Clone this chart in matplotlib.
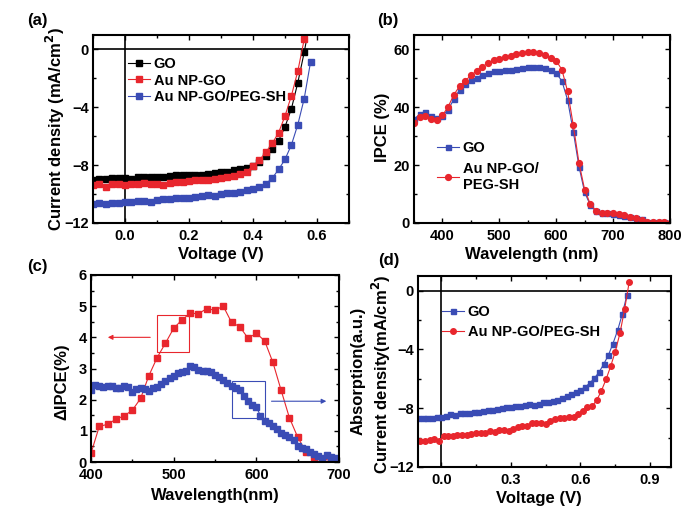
#!/usr/bin/env python3
"""J-V curves, IPCE and delta-IPCE for GO / Au NP-GO cells (4-panel figure)."""

import numpy as np
import matplotlib
matplotlib.use("Agg")
import matplotlib.pyplot as plt
from matplotlib.patches import Rectangle
from matplotlib.ticker import MultipleLocator

plt.rcParams["font.family"] = ["Liberation Sans", "DejaVu Sans"]
plt.rcParams["font.weight"] = "bold"
plt.rcParams["axes.labelweight"] = "bold"
plt.rcParams["mathtext.default"] = "bf"

RED = "#e8262d"
BLUE = "#3a4cb5"

# ---- (a) J-V, voltage grid every 0.02 V ----
volt_a = np.round(np.arange(-0.10, 0.581, 0.02), 2)
jv_go = [-9.0, -8.95, -8.95, -8.9, -8.9, -8.9, -8.95, -8.8, -8.85, -8.8,
         -8.8, -8.8, -8.75, -8.65, -8.7, -8.65, -8.65, -8.65, -8.6, -8.55,
         -8.5, -8.45, -8.35, -8.3, -8.2, -8.05, -7.75, -7.4, -6.9, -6.3,
         -5.35, -4.1, -2.3, -0.2, 2.2]
jv_au = [-9.35, -9.3, -9.5, -9.3, -9.3, -9.4, -9.3, -9.3, -9.25, -9.3,
         -9.3, -9.35, -9.2, -9.15, -9.15, -9.1, -9.05, -9.05, -9.0, -8.95,
         -8.9, -8.85, -8.75, -8.6, -8.45, -8.05, -7.65, -7.1, -6.5, -5.75,
         -4.6, -3.2, -1.5, 0.7, 3.0]
jv_peg = [-10.7, -10.65, -10.7, -10.6, -10.6, -10.55, -10.55, -10.5, -10.45, -10.55,
          -10.4, -10.35, -10.35, -10.3, -10.3, -10.25, -10.2, -10.15, -10.05, -10.1,
          -10.0, -9.95, -9.9, -9.85, -9.75, -9.65, -9.5, -9.3, -8.9, -8.3,
          -7.6, -6.6, -5.2, -3.4, -0.85]
volt_a_peg = np.round(np.arange(-0.10, 0.581, 0.02), 2)

# ---- (b) IPCE, every 10 nm ----
wl_b = np.arange(350, 801, 10)
ipce_go = [35.9, 37.6, 38.3, 37.1, 36.2, 37.1, 39.1, 42.8, 46.0, 47.9,
           49.4, 50.3, 51.1, 51.8, 52.4, 52.6, 53.0, 53.0, 53.3, 53.7,
           54.0, 54.1, 53.9, 53.6, 52.9, 51.8, 49.1, 42.5, 31.6, 19.5,
           10.6, 6.1, 4.0, 3.5, 3.3, 3.2, 2.8, 2.4, 2.0, 1.6,
           1.3, 0.4, 0.3, 0.3, 0.2, 0.1]
ipce_peg = [34.5, 36.5, 37.0, 35.8, 35.5, 37.2, 40.2, 44.3, 47.3, 49.2,
            51.0, 52.6, 54.0, 55.3, 56.2, 56.8, 57.4, 57.8, 58.3, 58.8,
            59.0, 59.2, 58.8, 58.0, 57.1, 56.1, 53.0, 45.5, 33.8, 20.8,
            11.5, 6.5, 4.2, 3.6, 3.4, 3.3, 3.0, 2.6, 2.1, 1.6,
            1.2, 0.3, 0.3, 0.3, 0.2, 0.0]

# ---- (c) delta IPCE (red, 10 nm) and absorption (blue, 5 nm) ----
wl_c_red = np.arange(400, 691, 10)
dipce = [0.28, 1.14, 1.21, 1.37, 1.48, 1.66, 2.04, 2.77, 3.35, 3.81,
         4.29, 4.56, 4.77, 4.76, 4.92, 4.87, 5.0, 4.48, 4.34, 3.97,
         4.13, 3.89, 3.2, 2.3, 1.42, 0.8, 0.33, 0.17, 0.1, 0.05]
wl_c_blue = np.arange(400, 701, 5)
absorb = [2.3, 2.46, 2.43, 2.41, 2.43, 2.45, 2.38, 2.38, 2.45, 2.4,
          2.24, 2.35, 2.37, 2.34, 2.28, 2.37, 2.41, 2.5, 2.61, 2.7,
          2.77, 2.86, 2.89, 2.93, 3.07, 3.05, 2.96, 2.91, 2.91, 2.89,
          2.8, 2.73, 2.64, 2.54, 2.45, 2.38, 2.3, 2.13, 1.95, 1.82,
          1.77, 1.48, 1.32, 1.26, 1.16, 1.05, 0.92, 0.87, 0.79, 0.71,
          0.52, 0.46, 0.41, 0.33, 0.25, 0.18, 0.14, 0.24, 0.15, 0.12,
          0.1]

# ---- (d) J-V second device set ----
volt_d_go = np.round(np.arange(-0.10, 0.801, 0.02), 2)
jd_go = [-8.68, -8.66, -8.64, -8.64, -8.57, -8.57, -8.5, -8.39, -8.43, -8.34,
         -8.32, -8.32, -8.23, -8.26, -8.17, -8.14, -8.1, -8.08, -8.0, -7.95,
         -7.9, -7.87, -7.83, -7.75, -7.72, -7.8, -7.7, -7.6, -7.55, -7.5,
         -7.42, -7.33, -7.2, -7.05, -6.9, -6.75, -6.55, -6.3, -5.95, -5.55,
         -5.0, -4.4, -3.6, -2.7, -1.6, -0.3]
volt_d_peg = np.round(np.arange(-0.09, 0.821, 0.02), 2)
jd_peg = [-10.2, -10.2, -10.13, -10.07, -10.22, -9.91, -9.89, -9.91, -9.84, -9.8,
          -9.84, -9.78, -9.66, -9.7, -9.7, -9.57, -9.62, -9.5, -9.48, -9.55,
          -9.4, -9.28, -9.22, -9.24, -9.02, -9.0, -9.02, -9.06, -8.84, -8.72,
          -8.66, -8.66, -8.6, -8.57, -8.39, -8.17, -7.95, -7.87, -7.45, -6.82,
          -6.04, -5.15, -4.14, -2.9, -1.28, 0.6]


def style_axes(ax, xmaj, xmin, ymaj, ymin):
    ax.xaxis.set_major_locator(MultipleLocator(xmaj))
    ax.xaxis.set_minor_locator(MultipleLocator(xmin))
    ax.yaxis.set_major_locator(MultipleLocator(ymaj))
    ax.yaxis.set_minor_locator(MultipleLocator(ymin))
    ax.tick_params(which="both", direction="in", top=True, right=True,
                   labelsize=10.5, width=1.0)
    ax.tick_params(which="major", length=3.5)
    ax.tick_params(which="minor", length=2)
    ax.tick_params(axis="x", pad=4)
    ax.tick_params(axis="y", pad=3)
    for sp in ax.spines.values():
        sp.set_linewidth(1.5)


def series(ax, x, y, color, marker, ms=3.8):
    return ax.plot(x, y, color=color, lw=0.8, marker=marker, ms=ms,
                   mec=color, mfc=color)[0]


fig = plt.figure(figsize=(6.91, 5.08), dpi=100)
W, H = 691.0, 508.0


def add_ax(l, r, t, b):
    return fig.add_axes([l / W, 1 - b / H, (r - l) / W, (b - t) / H])


def leg_kw(spacing):
    return dict(frameon=False, handlelength=1.5, handletextpad=0.25,
                borderpad=0, borderaxespad=0, labelspacing=spacing,
                prop={"weight": "bold", "size": 10.5}, numpoints=1)


# (a)
ax = add_ax(93, 349, 35, 223)
ax.axhline(0, color="black", lw=1.2)
ax.axvline(0, color="black", lw=1.2)
series(ax, volt_a, jv_go, "black", "s")
series(ax, volt_a, jv_au, RED, "s")
series(ax, volt_a_peg, jv_peg, BLUE, "s")
ax.set_xlim(-0.1, 0.7)
ax.set_ylim(-12, 1)
style_axes(ax, 0.2, 0.1, 4, 2)
ax.xaxis.set_major_formatter(plt.FuncFormatter(lambda v, p: f"{v:.1f}"))
ax.set_xlabel("Voltage (V)", fontsize=12)
ax.set_ylabel("Current density (mA/cm$^2$)", fontsize=12)
ax.xaxis.set_label_coords(0.5, -0.13)
ax.yaxis.set_label_coords(-0.1, 0.5)
ax.legend(ax.lines[2:], ["GO", "Au NP-GO", "Au NP-GO/PEG-SH"],
          loc="upper left", bbox_to_anchor=(0.137, 0.885), **leg_kw(0.2))

# (b)
ax = add_ax(414, 670, 35, 223)
series(ax, wl_b, ipce_go, BLUE, "s", ms=3.6)
series(ax, wl_b, ipce_peg, RED, "o", ms=4.2)
ax.set_xlim(350, 800)
ax.set_ylim(0, 65)
style_axes(ax, 100, 50, 20, 10)
ax.set_xlabel("Wavelength (nm)", fontsize=12)
ax.set_ylabel("IPCE (%)", fontsize=12)
ax.xaxis.set_label_coords(0.46, -0.13)
ax.yaxis.set_label_coords(-0.092, 0.508)
ax.legend(["GO", "Au NP-GO/\nPEG-SH"], loc="upper left",
          bbox_to_anchor=(0.09, 0.435), **leg_kw(0.45))

# (c)
ax = add_ax(91, 339, 275, 462)
series(ax, wl_c_red, dipce, RED, "s", ms=3.8)
series(ax, wl_c_blue, absorb, BLUE, "s", ms=4.2)
ax.set_xlim(400, 700)
ax.set_ylim(0, 6)
style_axes(ax, 100, 50, 1, 0.5)
ax.set_xlabel("Wavelength(nm)", fontsize=12)
ax.set_ylabel("\u0394IPCE(%)", fontsize=12)
ax.xaxis.set_label_coords(0.5, -0.14)
ax.yaxis.set_label_coords(-0.089, 0.43)
ax.add_patch(Rectangle((480, 3.52), 38, 1.2, fill=False, ec=RED, lw=0.8))
ax.annotate("", xy=(417, 4.0), xytext=(475, 4.0),
            arrowprops=dict(arrowstyle="-|>", color=RED, lw=0.8,
                            mutation_scale=7))
ax.add_patch(Rectangle((571, 1.4), 40, 1.19, fill=False, ec=BLUE, lw=0.8))
ax.annotate("", xy=(688, 1.95), xytext=(615, 1.95),
            arrowprops=dict(arrowstyle="-|>", color=BLUE, lw=0.8,
                            mutation_scale=7))

# (d)
ax = add_ax(418, 671, 276, 467)
ax.axhline(0, color="black", lw=1.2)
ax.axvline(0, color="black", lw=1.2)
h1 = series(ax, volt_d_go, jd_go, BLUE, "s", ms=3.6)
h2 = series(ax, volt_d_peg, jd_peg, RED, "o", ms=4.0)
ax.set_xlim(-0.1, 0.99)
ax.set_ylim(-12, 1)
style_axes(ax, 0.3, 0.15, 4, 2)
ax.xaxis.set_major_formatter(plt.FuncFormatter(lambda v, p: f"{v:.1f}"))
ax.set_xlabel("Voltage (V)", fontsize=12)
ax.set_ylabel("Current density(mA/cm$^2$)", fontsize=12)
ax.xaxis.set_label_coords(0.478, -0.125)
ax.yaxis.set_label_coords(-0.1, 0.484)
ax.text(-0.235, 0.503, "Absorption(a.u.)", transform=ax.transAxes,
        rotation=90, ha="center", va="center", fontsize=12, fontweight="bold")
ax.legend([h1, h2], ["GO", "Au NP-GO/PEG-SH"], loc="upper left",
          bbox_to_anchor=(0.095, 0.85), **leg_kw(0.45))

# panel letters
for lab, px, py in [("(a)", 37, 21), ("(b)", 388, 21), ("(c)", 37, 267), ("(d)", 389, 260)]:
    fig.text(px / W, 1 - py / H, lab, ha="center", va="center",
             fontsize=12, fontweight="bold")

plt.savefig("out.png", dpi=100)
plt.close()
